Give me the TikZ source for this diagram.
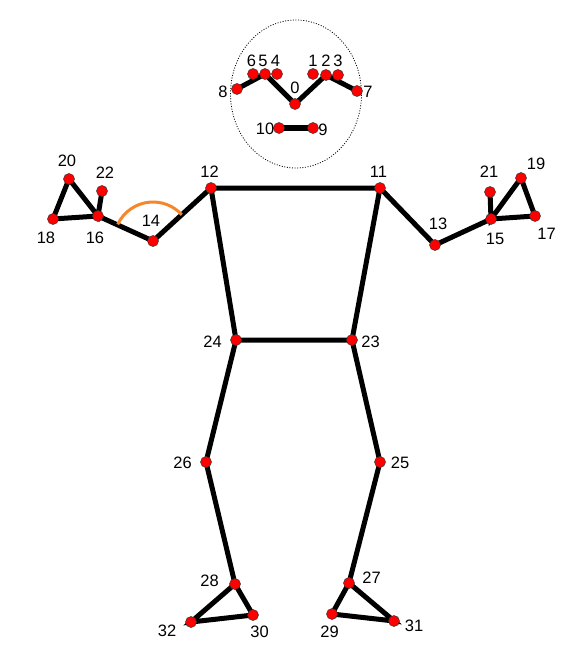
\documentclass[tikz,border=0pt]{standalone}
\usepackage{fontspec}
\setmainfont{Liberation Sans}
\usepackage{xcolor}
\usetikzlibrary{shapes,backgrounds}

\definecolor{anglearc}{HTML}{F5862A}

\begin{document}
\begin{tikzpicture}[x=1pt, y=-1pt,
    joint/.style={circle, draw=black!80, line width=0.5pt, fill=red, minimum size=11pt, inner sep=0pt},
    lbl/.style={inner sep=0pt, font=\fontsize{16.5}{18}\selectfont},
    bone/.style={line width=5pt}]
    \useasboundingbox (0,0) rectangle (585,666);

    % head
    \node[ellipse, draw, line width=0.8pt, dash pattern=on 1pt off 1.6pt, minimum width=131pt, minimum height=148pt, inner sep=0pt] (head) at (296,94) {};

    % joints, face
    \node[joint] (n0) at (295,104) {};
    \node[joint] (n1) at (313,74) {};
    \node[joint] (n2) at (326,75) {};
    \node[joint] (n3) at (338,75) {};
    \node[joint] (n4) at (277,74) {};
    \node[joint] (n5) at (265,74) {};
    \node[joint] (n6) at (253,74) {};
    \node[joint] (n7) at (357,91) {};
    \node[joint] (n8) at (237,89) {};
    \node[joint] (n9) at (313,128) {};
    \node[joint] (n10) at (279,128) {};

    % joints, body
    \node[joint] (n11) at (380,188) {};
    \node[joint] (n12) at (211,188) {};
    \node[joint] (n13) at (435,245) {};
    \node[joint] (n14) at (153,241) {};
    \node[joint] (n15) at (491,219) {};
    \node[joint] (n16) at (98,216) {};
    \node[joint] (n17) at (535,216) {};
    \node[joint] (n18) at (53,219) {};
    \node[joint] (n19) at (521,178) {};
    \node[joint] (n20) at (69,179) {};
    \node[joint] (n21) at (490,192) {};
    \node[joint] (n22) at (102,191) {};
    \node[joint] (n23) at (352,340) {};
    \node[joint] (n24) at (236,340) {};
    \node[joint] (n25) at (380,462) {};
    \node[joint] (n26) at (206,462) {};
    \node[joint] (n27) at (349,583) {};
    \node[joint] (n28) at (235,584) {};
    \node[joint] (n29) at (332,614) {};
    \node[joint] (n30) at (253,615) {};
    \node[joint] (n31) at (394,621) {};
    \node[joint] (n32) at (191,622) {};

    % labels
    \node[lbl] (t0) at (295,88) {0};
    \node[lbl] (t1) at (313,61) {1};
    \node[lbl] (t2) at (326,61) {2};
    \node[lbl] (t3) at (338,61) {3};
    \node[lbl] (t4) at (275.5,61) {4};
    \node[lbl] (t5) at (263,61) {5};
    \node[lbl] (t6) at (251.5,61) {6};
    \node[lbl] (t7) at (368,92) {7};
    \node[lbl] (t8) at (223,92) {8};
    \node[lbl] (t9) at (323,130) {9};
    \node[lbl] (t10) at (265,129) {10};
    \node[lbl] (t11) at (378.5,172) {11};
    \node[lbl] (t12) at (209.5,172) {12};
    \node[lbl] (t13) at (438,223.5) {13};
    \node[lbl] (t14) at (151,221) {14};
    \node[lbl] (t15) at (495,238.5) {15};
    \node[lbl] (t16) at (95,237.5) {16};
    \node[lbl] (t17) at (546.5,234) {17};
    \node[lbl] (t18) at (46,237.5) {18};
    \node[lbl] (t19) at (536,163.5) {19};
    \node[lbl] (t20) at (67,161) {20};
    \node[lbl] (t21) at (489,172) {21};
    \node[lbl] (t22) at (105,172.5) {22};
    \node[lbl] (t23) at (370.5,342) {23};
    \node[lbl] (t24) at (212.5,342) {24};
    \node[lbl] (t25) at (400,462.5) {25};
    \node[lbl] (t26) at (182.5,462.5) {26};
    \node[lbl] (t27) at (371.5,578) {27};
    \node[lbl] (t28) at (209.5,581) {28};
    \node[lbl] (t29) at (329.5,631.5) {29};
    \node[lbl] (t30) at (259.5,632) {30};
    \node[lbl] (t31) at (414,626) {31};
    \node[lbl] (t32) at (167,631) {32};

    \begin{scope}[on background layer]
        % face
        \draw[bone] (n8.center) -- (n5.center) -- (n0.center) -- (n2.center) -- (n7.center);
        \draw[bone] (n10.center) -- (n9.center);
        % torso
        \draw[bone] (n12.center) -- (n11.center) -- (n23.center) -- (n24.center) -- (n12.center);
        % arms
        \draw[bone] (n12.center) -- (n14.center) -- (n16.center);
        \draw[bone] (n16.center) -- (n18.center) -- (n20.center) -- (n16.center) -- (n22.center);
        \draw[bone] (n11.center) -- (n13.center) -- (n15.center);
        \draw[bone] (n15.center) -- (n17.center) -- (n19.center) -- (n15.center) -- (n21.center);
        % legs
        \draw[bone] (n24.center) -- (n26.center) -- (n28.center);
        \draw[bone] (n28.center) -- (n30.center) -- (n32.center) -- (n28.center);
        \draw[bone] (n23.center) -- (n25.center) -- (n27.center);
        \draw[bone] (n27.center) -- (n31.center) -- (n29.center) -- (n27.center);
    \end{scope}

    % elbow angle
    \draw[anglearc, line width=3pt] ([shift={(154.7:39pt)}]n14.center) arc[start angle=154.7, end angle=42.4, radius=39pt];
\end{tikzpicture}
\end{document}
